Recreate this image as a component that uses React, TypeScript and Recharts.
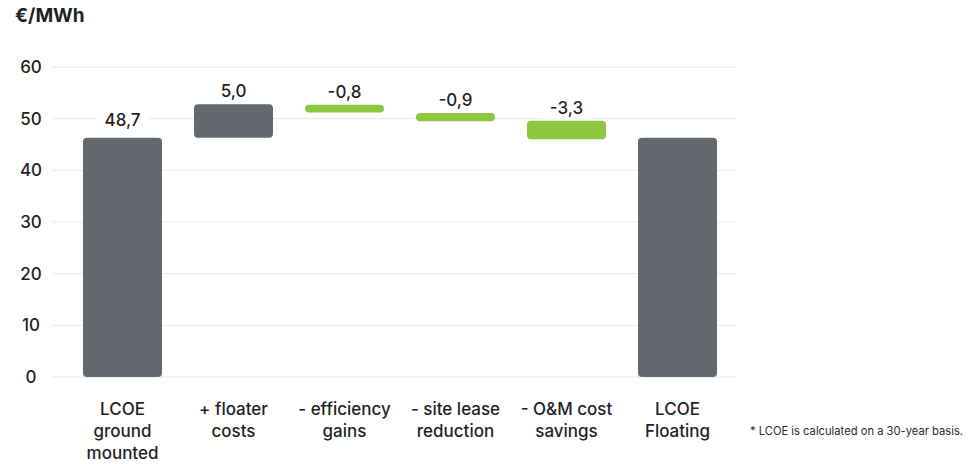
import { BarChart, Bar, XAxis, YAxis, CartesianGrid, LabelList, Cell } from "recharts"

const categories = [
  "LCOE\nground\nmounted",
  "+ floater\ncosts",
  "- efficiency\ngains",
  "- site lease\nreduction",
  "- O&M cost\nsavings",
  "LCOE\nFloating",
]
// bar extents as drawn in the source [bottom, top]
const lows = [0, 46.3, 51.2, 49.5, 46.0, 0]
const highs = [46.3, 52.8, 52.7, 51.1, 49.6, 46.3]
const valueLabels = ["48,7", "5,0", "-0,8", "-0,9", "-3,3", ""]
const kinds = ["total", "up", "down", "down", "down", "total"]
const yTicks = [0, 10, 20, 30, 40, 50, 60]

const GRAY = "#65686f"
const GREEN = "#8dc63f"
const FONT = "Inter, 'Open Sans', sans-serif"

const data = categories.map((c, i) => ({
  name: c,
  range: [lows[i], highs[i]],
  label: valueLabels[i],
  kind: kinds[i],
}))

function XTick(props: any) {
  const { x, y, payload } = props
  const lines = String(payload.value).split("\n")
  return (
    <text x={x} y={y + 30} textAnchor="middle" fill="#1f1f24" fontSize={17} fontWeight={500} fontFamily={FONT}>
      {lines.map((l, i) => (
        <tspan key={i} x={x} dy={i === 0 ? 0 : 22}>
          {l}
        </tspan>
      ))}
    </text>
  )
}

function YTick(props: any) {
  const { y, payload } = props
  return (
    <text x={31} y={y + 6} textAnchor="middle" fill="#1f1f24" fontSize={17} fontWeight={500} fontFamily={FONT}>
      {payload.value}
    </text>
  )
}

function ValueLabel(props: any) {
  const { x, y, width, index } = props
  const txt = valueLabels[index]
  if (!txt) return null
  const cx = x + width / 2
  const ty = y - (index === 0 ? 12 : 7)
  return (
    <g>
      <rect x={cx - 26} y={ty - 17} width={52} height={22} fill="#fff" />
      <text x={cx} y={ty} textAnchor="middle" fill="#1f1f24" fontSize={17} fontWeight={500} fontFamily={FONT}>
        {txt}
      </text>
    </g>
  )
}

export default function App() {
  return (
    <div style={{ position: "absolute", left: 0, top: 0, width: 971, height: 464, background: "#fff" }}>
      <div
        style={{
          position: "absolute",
          left: 15,
          top: 4,
          fontFamily: FONT,
          fontWeight: 700,
          fontSize: 19,
          color: "#1f1f24",
        }}
      >
        €/MWh
      </div>
      <BarChart
        width={971}
        height={464}
        data={data}
        margin={{ top: 67, right: 234, left: 0, bottom: 0 }}
        barCategoryGap={16}
      >
        <CartesianGrid vertical={false} stroke="#e9e9ec" />
        <XAxis
          dataKey="name"
          axisLine={false}
          tickLine={false}
          height={87}
          interval={0}
          padding={{ left: 15, right: 4 }}
          tick={<XTick />}
        />
        <YAxis
          domain={[0, 60]}
          ticks={yTicks}
          width={52}
          axisLine={false}
          tickLine={false}
          tick={<YTick />}
        />
        <Bar dataKey="range" isAnimationActive={false} radius={4}>
          {data.map((d, i) => (
            <Cell key={i} fill={d.kind === "down" ? GREEN : GRAY} />
          ))}
          <LabelList dataKey="label" content={<ValueLabel />} />
        </Bar>
      </BarChart>
      <div
        style={{
          position: "absolute",
          left: 750,
          top: 424,
          fontFamily: FONT,
          fontSize: 11.2,
          color: "#2a2a30",
          whiteSpace: "nowrap",
        }}
      >
        * LCOE is calculated on a 30-year basis.
      </div>
    </div>
  )
}
